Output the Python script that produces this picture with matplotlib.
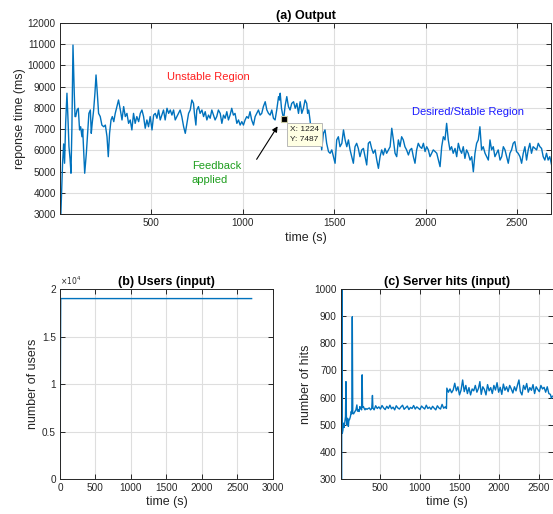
import matplotlib
matplotlib.use("Agg")
import matplotlib.pyplot as plt

plt.rcParams['font.family'] = ['Liberation Sans', 'DejaVu Sans']

# ---------------- data ----------------
resp_t = [5, 15, 21, 26, 32, 39, 45, 50, 56, 61, 66, 72, 79, 83, 87, 94, 101, 108, 114, 121,
          125, 130, 136, 145, 152, 159, 167, 172, 177, 185, 192, 198, 205, 212, 221, 230, 240, 249, 258, 265,
          272, 280, 287, 295, 303, 312, 321, 331, 340, 349, 358, 367, 376, 385, 394, 403, 412, 421, 431, 440,
          449, 458, 467, 476, 485, 494, 504, 513, 522, 531, 540, 549, 558, 567, 576, 586, 595, 604, 613, 622,
          631, 640, 649, 658, 667, 677, 686, 695, 704, 713, 722, 731, 736, 744, 749, 758, 767, 777, 786, 795,
          804, 813, 822, 831, 840, 849, 858, 867, 877, 886, 895, 904, 913, 922, 931, 940, 949, 958, 968, 977,
          986, 995, 1004, 1013, 1022, 1031, 1040, 1049, 1059, 1068, 1077, 1086, 1095, 1104, 1113, 1123, 1132, 1141, 1150, 1159,
          1168, 1177, 1186, 1196, 1201, 1205, 1212, 1218, 1224, 1232, 1241, 1250, 1259, 1268, 1278, 1287, 1296, 1305, 1314, 1323,
          1332, 1341, 1350, 1355, 1361, 1368, 1372, 1378, 1387, 1396, 1405, 1414, 1423, 1432, 1441, 1450, 1459, 1469, 1478, 1487,
          1496, 1505, 1514, 1523, 1532, 1542, 1551, 1560, 1569, 1578, 1587, 1596, 1605, 1614, 1623, 1632, 1641, 1651, 1660, 1669,
          1678, 1687, 1696, 1705, 1714, 1724, 1733, 1742, 1751, 1760, 1769, 1778, 1787, 1797, 1806, 1815, 1824, 1833, 1842, 1851,
          1860, 1869, 1878, 1887, 1896, 1906, 1915, 1924, 1933, 1942, 1951, 1960, 1969, 1979, 1988, 1997, 2006, 2015, 2024, 2033,
          2042, 2052, 2061, 2070, 2079, 2088, 2097, 2106, 2115, 2124, 2133, 2142, 2151, 2161, 2170, 2179, 2188, 2197, 2206, 2215,
          2224, 2233, 2243, 2252, 2261, 2270, 2279, 2288, 2297, 2306, 2315, 2325, 2334, 2343, 2352, 2361, 2370, 2379, 2388, 2397,
          2407, 2416, 2425, 2434, 2443, 2452, 2461, 2470, 2479, 2488, 2497, 2506, 2516, 2525, 2534, 2543, 2552, 2561, 2570, 2579,
          2588, 2598, 2607, 2616, 2625, 2634, 2643, 2652, 2661, 2670, 2679, 2689]
resp_ms = [2800, 5390, 6300, 5390, 7300, 8690, 7400, 6170, 5600, 4920, 7000, 10960, 8690, 7590, 7590, 7900, 7980, 6960, 7110, 6640,
           7000, 6020, 4920, 5860, 6800, 7740, 7900, 6800, 7270, 7900, 8690, 9550, 8690, 7740, 7590, 7190, 7110, 7190, 6640, 5700,
           6800, 7430, 7590, 7350, 7740, 8060, 8370, 7900, 7430, 8060, 7590, 7740, 7270, 7430, 6960, 7740, 7270, 7590, 7350, 7740,
           7900, 7590, 7040, 7430, 7110, 7590, 6960, 7660, 7740, 7510, 7900, 7430, 7660, 7900, 7430, 7980, 7740, 7900, 7660, 7900,
           7430, 7590, 7740, 7900, 7590, 7110, 6800, 7270, 7740, 7900, 8370, 8210, 7740, 7190, 7900, 8060, 7740, 7900, 7590, 7820,
           7430, 7660, 7510, 7900, 7660, 7430, 7590, 7900, 7740, 7270, 7660, 7510, 7820, 7430, 7660, 7980, 7660, 7740, 7270, 7430,
           7190, 7350, 7190, 7430, 7590, 7510, 7820, 7430, 7190, 7590, 7740, 7900, 7660, 7740, 8060, 8290, 7900, 7740, 7660, 7900,
           7510, 7430, 7900, 8530, 8370, 8690, 7980, 7700, 7487, 8100, 8530, 8060, 7900, 8210, 8290, 7980, 8210, 7740, 8290, 7740,
           7980, 8370, 8210, 7740, 7900, 7430, 7110, 6900, 6800, 6490, 6800, 6490, 6800, 6020, 6800, 6960, 6330, 5940, 5860, 6020,
           5700, 5390, 6490, 6640, 6170, 6330, 6960, 6490, 6170, 6490, 6020, 5700, 5390, 6170, 6330, 6090, 5700, 6020, 6090, 5700,
           5310, 6330, 6410, 6090, 5860, 6020, 5540, 5150, 5700, 6020, 5780, 6090, 5860, 6020, 6170, 7040, 6490, 5860, 5700, 6490,
           6170, 6640, 6490, 6170, 6020, 5780, 6020, 6090, 5700, 5390, 6020, 6330, 6170, 6090, 6330, 5940, 6170, 6020, 5700, 5860,
           6020, 5940, 5860, 5540, 5230, 6170, 6640, 6490, 7270, 6490, 6020, 6170, 5860, 6090, 5700, 6330, 6020, 5860, 6170, 5620,
           6020, 5860, 5540, 5700, 4990, 5860, 6330, 6490, 7110, 6020, 6170, 5860, 5700, 5540, 6490, 6020, 6170, 5700, 5860, 6020,
           5540, 5700, 6170, 6020, 5700, 5390, 5860, 6020, 6330, 6410, 5940, 5860, 5700, 5390, 5860, 6170, 5540, 6020, 6330, 5860,
           6170, 6090, 6020, 6330, 6170, 6090, 5700, 5540, 5860, 5540, 5700, 5310]

users_t = [1, 10, 2700]
users_n = [2000, 19000, 19000]

hits_t = [1, 10, 12, 18, 25, 31, 40, 50, 58, 64, 70, 77, 85, 94, 100, 110, 120, 131, 138, 144,
          150, 160, 170, 180, 190, 202, 210, 220, 230, 240, 250, 262, 269, 274, 285, 295, 305, 315, 330, 345,
          360, 375, 390, 399, 405, 420, 440, 460, 480, 500, 520, 540, 560, 580, 600, 620, 640, 660, 680, 700,
          720, 740, 760, 780, 800, 820, 840, 860, 880, 900, 920, 940, 960, 980, 1000, 1020, 1040, 1060, 1080, 1100,
          1120, 1140, 1160, 1180, 1200, 1220, 1240, 1260, 1280, 1300, 1320, 1335, 1340, 1360, 1380, 1400, 1420, 1440, 1460, 1480,
          1500, 1520, 1540, 1560, 1580, 1600, 1620, 1640, 1660, 1680, 1700, 1720, 1740, 1758, 1775, 1795, 1815, 1835, 1855, 1875,
          1895, 1915, 1935, 1955, 1975, 1995, 2015, 2035, 2055, 2075, 2095, 2115, 2135, 2155, 2175, 2195, 2215, 2235, 2252, 2270,
          2290, 2310, 2330, 2350, 2370, 2390, 2410, 2430, 2450, 2470, 2490, 2510, 2530, 2550, 2570, 2590, 2610, 2630, 2650, 2662,
          2675]
hits_n = [300, 300, 1000, 469, 480, 506, 490, 510, 530, 659, 520, 500, 524, 494, 515, 520, 530, 549, 540, 898,
          545, 540, 545, 550, 555, 573, 550, 555, 549, 567, 560, 555, 684, 565, 567, 560, 555, 560, 557, 560,
          562, 555, 560, 608, 562, 555, 570, 560, 566, 558, 571, 562, 556, 568, 560, 572, 559, 565, 555, 570,
          562, 558, 566, 572, 557, 563, 569, 556, 564, 560, 571, 558, 566, 561, 556, 569, 563, 558, 572, 560,
          565, 557, 568, 561, 555, 570, 562, 558, 575, 561, 566, 560, 635, 620, 632, 618, 628, 653, 625, 640,
          610, 628, 665, 622, 645, 615, 637, 610, 632, 625, 645, 620, 634, 659, 612, 640, 630, 610, 648, 625,
          637, 615, 645, 628, 655, 620, 638, 612, 650, 627, 640, 622, 645, 632, 617, 640, 625, 648, 665, 622,
          610, 645, 630, 652, 620, 637, 627, 648, 615, 640, 630, 622, 645, 632, 638, 620, 640, 615, 612, 598,
          605]

resp_yticks = [3000, 4000, 5000, 6000, 7000, 8000, 9000, 10000, 11000, 12000]
time_ticks = [500, 1000, 1500, 2000, 2500]
users_xticks = [0, 500, 1000, 1500, 2000, 2500, 3000]
users_yticks = [0, 5000, 10000, 15000, 20000]
users_yticklabels = ['0', '0.5', '1', '1.5', '2']
hits_yticks = [300, 400, 500, 600, 700, 800, 900, 1000]

tip_t, tip_v = 1224, 7487

# ---------------- style ----------------
LINE = '#0072BD'
AXC = '#262626'
GRID = '#DEDEDE'
TICK_FS = 7.2
LAB_FS = 9.0
TITLE_FS = 9.0


def style(ax):
    for s in ax.spines.values():
        s.set_color(AXC)
        s.set_linewidth(0.7)
    ax.tick_params(direction='in', length=3.5, width=0.7, colors=AXC,
                   labelsize=TICK_FS, top=True, right=True, pad=3)
    ax.grid(True, color=GRID, linewidth=0.8)
    ax.set_axisbelow(True)


fig = plt.figure(figsize=(5.53, 5.14), dpi=100)

# (a) Output
ax1 = fig.add_axes([0.1085, 0.5837, 0.888, 0.3716])
style(ax1)
ax1.plot(resp_t, resp_ms, color=LINE, lw=1.0)
ax1.set_xlim(1, 2686)
ax1.set_ylim(3000, 12000)
ax1.set_xticks(time_ticks)
ax1.set_yticks(resp_yticks)
ax1.set_xlabel('time (s)', fontsize=LAB_FS, color=AXC, labelpad=3)
ax1.set_ylabel('reponse time (ms)', fontsize=LAB_FS, color=AXC, labelpad=1)
ax1.set_title('(a) Output', fontsize=TITLE_FS, fontweight='bold', color='black', pad=3)
ax1.text(811, 9456, 'Unstable Region', color='#FF2020', fontsize=8, ha='center', va='center')
ax1.text(2232, 7820, 'Desired/Stable Region', color='#1A1AFF', fontsize=8, ha='center', va='center')
ax1.text(722, 4908, 'Feedback\napplied', color='#1E9E1E', fontsize=8, ha='left', va='center',
         linespacing=1.5)
ax1.annotate('', xy=(1199, 7241), xytext=(1068, 5465),
             arrowprops=dict(arrowstyle='-|>', color='black', lw=0.8, mutation_scale=8))
ax1.plot([tip_t], [tip_v], marker='s', color='black', markersize=4.5,
         markeredgecolor='#C8C8A0', markeredgewidth=0.8, zorder=5)
ax1.text(1259, 7150, 'X: %d\nY: %d' % (tip_t, tip_v), fontsize=6.0, color='#202020',
         ha='left', va='top', linespacing=1.6,
         bbox=dict(boxstyle='square,pad=0.4', facecolor='#FFFFE3', edgecolor='#B8B8B8', lw=0.7),
         zorder=6)

# (b) Users
ax2 = fig.add_axes([0.1085, 0.068, 0.385, 0.3696])
style(ax2)
ax2.plot(users_t, users_n, color=LINE, lw=1.0)
ax2.set_xlim(0, 3000)
ax2.set_ylim(0, 20000)
ax2.set_xticks(users_xticks)
ax2.set_yticks(users_yticks)
ax2.set_yticklabels(users_yticklabels)
ax2.set_xlabel('time (s)', fontsize=LAB_FS, color=AXC, labelpad=2)
ax2.set_ylabel('number of users', fontsize=LAB_FS, color=AXC, labelpad=2)
ax2.set_title('(b) Users (input)', fontsize=TITLE_FS, fontweight='bold', color='black', pad=3)
ax2.text(0.0, 1.012, r'$\times10^4$', transform=ax2.transAxes, fontsize=5.5, color=AXC,
         ha='left', va='bottom')

# (c) Server hits
ax3 = fig.add_axes([0.6166, 0.068, 0.383, 0.3696])
style(ax3)
ax3.plot(hits_t, hits_n, color=LINE, lw=1.0)
ax3.set_xlim(1, 2680)
ax3.set_ylim(300, 1000)
ax3.set_xticks(time_ticks)
ax3.set_yticks(hits_yticks)
ax3.set_xlabel('time (s)', fontsize=LAB_FS, color=AXC, labelpad=2)
ax3.set_ylabel('number of hits', fontsize=LAB_FS, color=AXC, labelpad=2)
ax3.set_title('(c) Server hits (input)', fontsize=TITLE_FS, fontweight='bold', color='black', pad=3)

fig.savefig('out.png', dpi=100)
